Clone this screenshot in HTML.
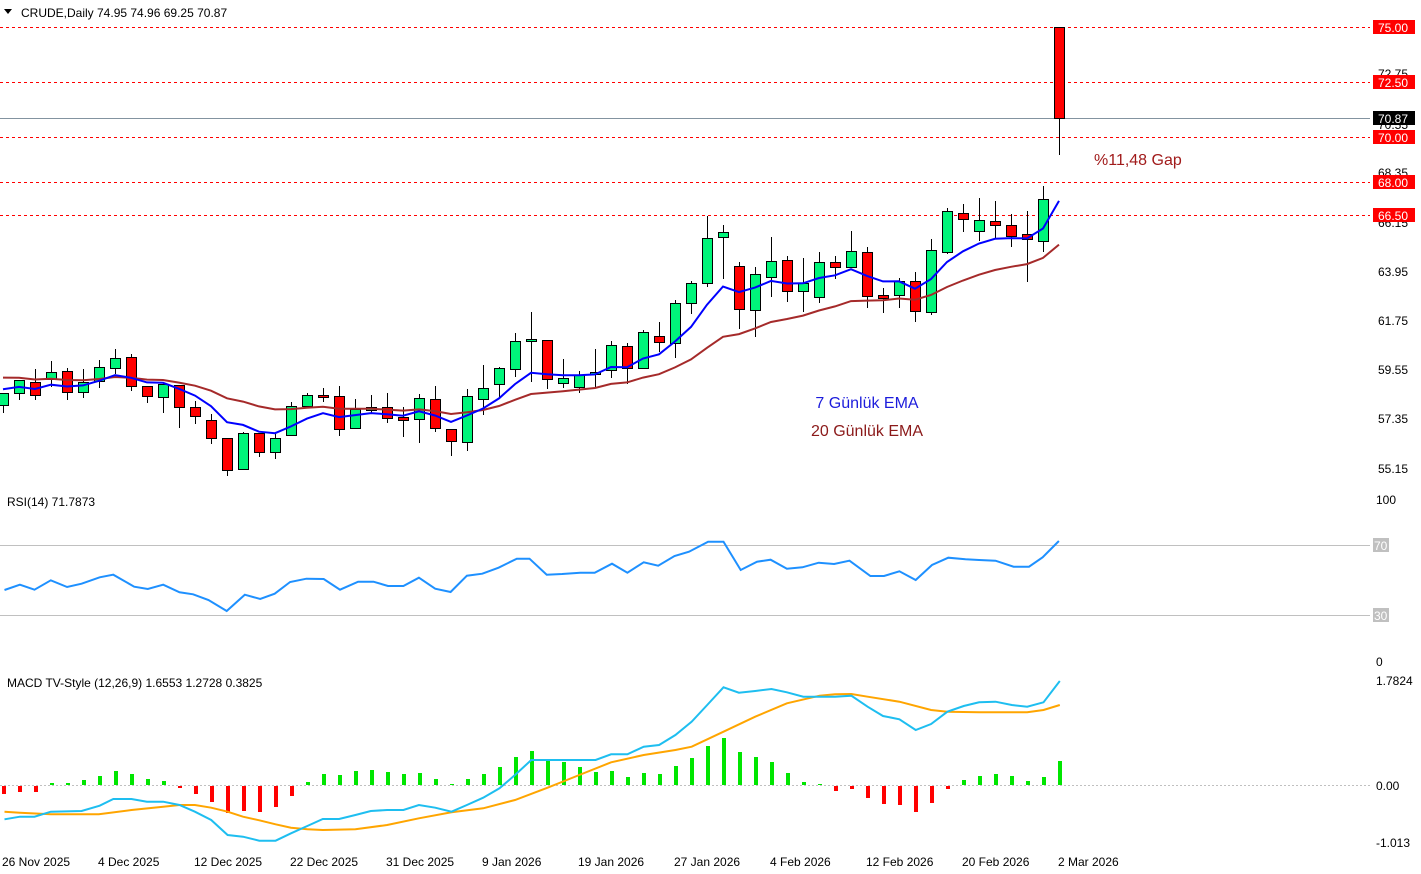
<!DOCTYPE html>
<html><head><meta charset="utf-8"><style>
html,body{margin:0;padding:0;background:#fff;}
svg{display:block;font-family:"Liberation Sans",sans-serif;}
</style></head><body>
<svg id="c" width="1421" height="874" xmlns="http://www.w3.org/2000/svg"></svg>
<script>
const S=document.getElementById('c');let h='';
// candles: top,bottom,high,low,color(g/r)
const C=[[393,405,393,413,'g'],[380,393,380,400,'g'],[382,395,369,400,'r'],[372,379,361,387,'g'],[371,392,368,400,'r'],[382,392,369,398,'g'],[367,381,360,388,'g'],[358,368,349,374,'g'],[357,386,354,391,'r'],[386,396,386,403,'r'],[384,397,384,413,'g'],[385,407,385,428,'r'],[407,416,401,424,'r'],[420,438,414,444,'r'],[438,470,438,476,'r'],[433,469,432,469,'g'],[433,452,433,457,'r'],[438,452,434,459,'g'],[406,435,402,435,'g'],[395,406,393,406,'g'],[395,397,388,402,'r'],[396,429,386,436,'r'],[409,428,399,428,'g'],[407,410,395,413,'g'],[407,418,393,423,'r'],[417,420,407,437,'r'],[398,419,394,443,'g'],[399,428,386,432,'r'],[429,441,429,456,'r'],[396,442,389,451,'g'],[388,399,365,415,'g'],[368,384,367,399,'g'],[341,369,333,377,'g'],[339,341,312,382,'g'],[340,379,340,389,'r'],[378,383,359,388,'g'],[375,387,371,393,'g'],[372,374,349,387,'g'],[345,370,341,378,'g'],[346,368,343,384,'r'],[332,368,330,368,'g'],[336,342,322,352,'r'],[303,343,300,358,'g'],[283,303,281,314,'g'],[238,283,216,287,'g'],[232,237,225,279,'g'],[266,309,262,329,'r'],[274,310,267,337,'g'],[261,277,237,297,'g'],[260,291,256,302,'r'],[283,291,258,312,'g'],[262,297,252,303,'g'],[262,267,256,279,'r'],[251,267,231,268,'g'],[252,296,247,308,'r'],[295,298,288,313,'r'],[281,295,278,308,'g'],[281,311,272,322,'r'],[250,312,239,315,'g'],[211,252,208,254,'g'],[213,219,204,232,'r'],[220,231,198,241,'g'],[221,225,201,238,'r'],[225,236,214,247,'r'],[234,239,211,282,'r'],[199,241,186,252,'g'],[27,118,27,155,'r']];
const X=i=>3+16*i;
// price horizontal lines
[[27],[82],[137],[182],[215]].forEach(([y])=>{h+=`<line x1="0" x2="1370" y1="${y}.5" y2="${y}.5" stroke="#f00" stroke-dasharray="3,3"/>`;});
h+=`<line x1="0" x2="1370" y1="118.5" y2="118.5" stroke="#8393a0"/>`;
// axis labels
[['72.75',74],['70.55',125],['68.35',173],['66.15',223],['63.95',272],['61.75',321],['59.55',370],['57.35',419],['55.15',469]].forEach(([t,y])=>{h+=`<text x="1378" y="${y+4}" font-size="12" fill="#000">${t}</text>`;});
[['75.00',27],['72.50',82],['70.00',137],['68.00',182],['66.50',215]].forEach(([t,y])=>{h+=`<rect x="1373" y="${y-7}" width="42" height="14" fill="#f00"/><text x="1378" y="${y+5}" font-size="12" fill="#fff">${t}</text>`;});
h+=`<rect x="1373" y="111" width="42" height="14" fill="#000"/><text x="1378" y="123" font-size="12" fill="#fff">70.87</text>`;
// candles
C.forEach((c,i)=>{const x=X(i);h+=`<line x1="${x+.5}" x2="${x+.5}" y1="${c[2]}" y2="${c[3]}" stroke="#000"/>`;
h+=`<rect x="${x-4.5}" y="${c[0]+.5}" width="10" height="${Math.max(1,c[1]-c[0])}" fill="${c[4]=='g'?'#00f57a':'#f00'}" stroke="#000"/>`;});
// EMAs
function ema(a,s){let e=s,p=[];C.forEach((c,i)=>{const cl=c[4]=='g'?c[0]:c[1];e=e+a*(cl-e);p.push(X(i)+','+e.toFixed(1));});return p.join(' ');}
h+=`<polyline points="${ema(2/21,376)}" fill="none" stroke="#a52a2a" stroke-width="2"/>`;
h+=`<polyline points="${ema(2/8,388)}" fill="none" stroke="#0000ff" stroke-width="2"/>`;
h+=`<text x="1094" y="165" font-size="16" fill="#a11b1b">%11,48 Gap</text>`;
h+=`<text x="867" y="408" font-size="16" fill="#1c1cdc" text-anchor="middle">7 Günlük EMA</text>`;
h+=`<text x="867" y="436" font-size="16" fill="#8b1a1a" text-anchor="middle">20 Günlük EMA</text>`;
// header
h+=`<polygon points="4,9 12,9 8,14" fill="#000"/><text x="21" y="17" font-size="12" fill="#000">CRUDE,Daily  74.95 74.96 69.25 70.87</text>`;
// RSI
h+=`<text x="7" y="506" font-size="12">RSI(14) 71.7873</text><text x="1376" y="504" font-size="12">100</text><text x="1376" y="666" font-size="12">0</text>`;
h+=`<line x1="0" x2="1370" y1="545.5" y2="545.5" stroke="#c0c0c0"/><line x1="0" x2="1370" y1="615.5" y2="615.5" stroke="#c0c0c0"/>`;
h+=`<rect x="1373" y="538" width="16" height="14" fill="#c0c0c0"/><text x="1374" y="550" font-size="12" fill="#fff">70</text><rect x="1373" y="608" width="16" height="14" fill="#c0c0c0"/><text x="1374" y="620" font-size="12" fill="#fff">30</text>`;
const R=[[5,300],[22,284],[38,299],[56,271],[74,291],[90,281],[110,262],[125,254],[148,290],[163,297],[180,284],[198,307],[213,313],[230,330],[250,363],[270,314],[287,327],[303,311],[320,276],[338,266],[357,267],[375,299],[395,275],[412,275],[428,288],[445,288],[462,263],[480,296],[497,306],[515,257],[532,251],[550,233],[570,206],[584,206],[603,254],[620,252],[640,248],[656,248],[675,221],[692,248],[710,217],[726,227],[744,198],[760,185],[781,155],[798,155],[817,240],[835,215],[850,209],[868,236],[885,232],[903,218],[920,222],[937,212],[960,258],[975,258],[992,244],[1010,270],[1028,225],[1046,203],[1065,208],[1080,210],[1098,212],[1118,230],[1135,230],[1150,202],[1168,153]];
h+=`<polyline points="${R.map(p=>(p[0]/1.103).toFixed(1)+','+(490+p[1]/3).toFixed(1)).join(' ')}" fill="none" stroke="#1e90ff" stroke-width="2"/>`;
// MACD
h+=`<text x="7" y="687" font-size="12">MACD TV-Style (12,26,9) 1.6553 1.2728 0.3825</text><text x="1376" y="685" font-size="12">1.7824</text><text x="1376" y="790" font-size="12">0.00</text><text x="1376" y="847" font-size="12">-1.013</text>`;
h+=`<line x1="0" x2="1370" y1="785.5" y2="785.5" stroke="#c0c0c0" stroke-dasharray="2,2"/>`;
const H=[793,791,791,783,783,780,776,771,774,779,781,787,793,801,812,810,811,806,795,782,774,775,771,770,772,774,773,779,784,779,774,767,757,751,759,762,767,772,771,777,773,774,766,758,746,738,752,757,762,773,782,784,790,788,797,803,804,811,802,788,780,776,774,776,781,777,761];
H.forEach((y,i)=>{const x=X(i)-1;if(y<785)h+=`<rect x="${x}" y="${y}" width="4" height="${785-y}" fill="#00e600"/>`;else if(y>785)h+=`<rect x="${x}" y="786" width="4" height="${y-785}" fill="#f00"/>`;});
const M=[[5,463],[22,455],[38,455],[56,440],[90,438],[110,422],[125,402],[145,402],[162,410],[180,410],[198,420],[215,440],[233,465],[251,510],[268,515],[286,527],[304,527],[321,505],[339,483],[356,462],[374,462],[392,450],[409,438],[427,435],[445,435],[462,420],[480,428],[498,440],[515,420],[533,398],[551,370],[568,330],[586,285],[604,285],[657,285],[674,268],[692,268],[710,245],[727,240],[745,210],[763,170],[780,120],[798,67],[815,83],[833,78],[851,72],[868,82],[886,95],[904,95],[921,95],[939,92],[957,125],[974,153],[992,163],[1010,195],[1027,177],[1045,140],[1063,123],[1080,112],[1098,110],[1116,120],[1133,125],[1151,112],[1169,48]];
const G=[[5,440],[22,443],[56,448],[109,448],[145,435],[180,425],[198,420],[215,420],[233,428],[251,440],[268,455],[286,466],[304,478],[321,488],[339,493],[356,495],[392,493],[427,480],[462,460],[498,442],[533,430],[568,405],[604,368],[639,330],[674,292],[710,270],[745,255],[763,245],[798,200],[833,155],[868,115],[904,92],[921,88],[939,87],[957,95],[992,110],[1027,135],[1045,140],[1080,142],[1133,142],[1151,135],[1169,120]];
const pp=a=>a.map(p=>(p[0]/1.103).toFixed(1)+','+(665+p[1]/3).toFixed(1)).join(' ');
h+=`<polyline points="${pp(G)}" fill="none" stroke="#ffa500" stroke-width="2"/>`;
h+=`<polyline points="${pp(M)}" fill="none" stroke="#1ebef0" stroke-width="2"/>`;
// dates
[['26 Nov 2025',2],['4 Dec 2025',98],['12 Dec 2025',194],['22 Dec 2025',290],['31 Dec 2025',386],['9 Jan 2026',482],['19 Jan 2026',578],['27 Jan 2026',674],['4 Feb 2026',770],['12 Feb 2026',866],['20 Feb 2026',962],['2 Mar 2026',1058]].forEach(([t,x])=>{h+=`<text x="${x}" y="866" font-size="12">${t}</text>`;});
S.innerHTML=h;
</script>
</body></html>
